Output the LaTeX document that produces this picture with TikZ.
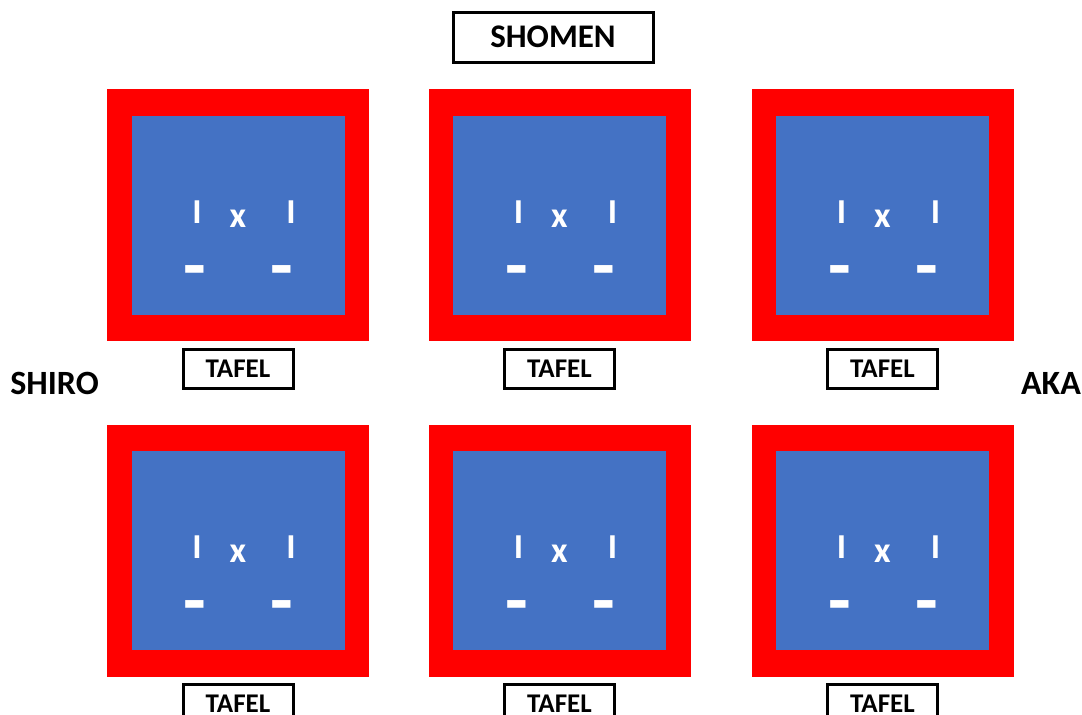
\documentclass[tikz,border=0pt]{standalone}
\usepackage{fontspec}
\setmainfont{Carlito}
\usetikzlibrary{positioning}
\definecolor{matred}{HTML}{FF0000}
\definecolor{floorblue}{HTML}{4472C4}

\begin{document}
\begin{tikzpicture}[
    x=1pt, y=-1pt,
    every node/.style={font=\bfseries, inner sep=0pt},
    mat/.style={fill=matred, minimum width=262pt, minimum height=252pt},
    floor/.style={fill=floorblue, minimum width=213pt, minimum height=199pt},
    lbl/.style={draw=black, line width=3pt, fill=white, align=center},
    scoremark/.style={text=white, anchor=base, font=\bfseries\fontsize{35}{35}\selectfont},
    dashmark/.style={text=white, anchor=base, font=\bfseries\fontsize{74}{74}\selectfont},
    side/.style={font=\bfseries\fontsize{34}{34}\selectfont}
]
\useasboundingbox (0,0) rectangle (1082,715);

\node[lbl, minimum width=200pt, minimum height=50pt, font=\bfseries\fontsize{33}{33}\selectfont] (shomen) at (553,37) {SHOMEN};
\node[side] (shiro) at (54.5,383.5) {SHIRO};
\node[side] (aka) at (1051,383.5) {AKA};

% six courts, each with its score board below
\foreach \row/\cy in {1/215, 2/550.5} {
  \foreach \col/\cx in {1/238, 2/559.5, 3/882.5} {
    \node[mat] (court\row\col) at (\cx,\cy) {};
    \node[floor] (floor\row\col) at (court\row\col.center) {};
    \node[scoremark] (ia\row\col) at ([shift={(-41,8)}]court\row\col.center) {I};
    \node[scoremark, font=\bfseries\fontsize{36}{36}\selectfont] (vs\row\col) at ([shift={(0,12)}]court\row\col.center) {x};
    \node[scoremark] (ib\row\col) at ([shift={(53,8)}]court\row\col.center) {I};
    \node[dashmark] (da\row\col) at ([shift={(-43,75)}]court\row\col.center) {-};
    \node[dashmark] (db\row\col) at ([shift={(44,75)}]court\row\col.center) {-};
    \node[lbl, minimum width=110pt, minimum height=39pt, font=\bfseries\fontsize{27}{27}\selectfont, below=6.5pt of court\row\col] (tafel\row\col) {TAFEL};
  }
}
\end{tikzpicture}
\end{document}
